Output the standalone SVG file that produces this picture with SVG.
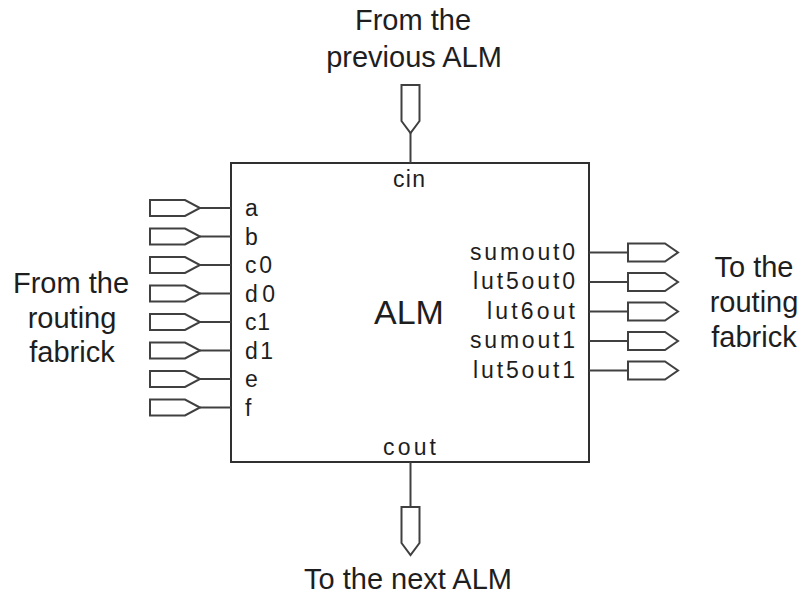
<svg xmlns="http://www.w3.org/2000/svg" width="803" height="596" viewBox="0 0 803 596">
<style>
  .wire{stroke:#404040;stroke-width:2;fill:none}
  .pin{stroke:#404040;stroke-width:2;fill:#fff;stroke-linejoin:miter}
  .box{stroke:#303030;stroke-width:2;fill:#fff}
  text{font-family:"Liberation Sans",Arial,sans-serif;fill:#1e1e1e}
  .big{font-size:29px;text-anchor:middle}
  .port{font-size:23px}
  .title{font-size:34px;text-anchor:middle}
</style>
<defs>
  <path id="pinIn" d="M0,-8 H35 L50,0 L35,8 H0 Z"/>
  <path id="pinOut" d="M0,-9 H37 L50,0 L37,9 H0 Z"/>
  <path id="pinDown" d="M-9,0 H9 V36 L0,48 L-9,36 Z"/>
</defs>

<g id="alm">
  <rect class="box" x="231" y="163" width="358" height="299"/>
  <text class="title" x="409" y="324">ALM</text>
  <text class="port" x="393" y="187" textLength="32" lengthAdjust="spacing">cin</text>
  <text class="port" x="383" y="455" textLength="53" lengthAdjust="spacing">cout</text>
</g>

<g id="inputs">
  <g id="in-a"><use href="#pinIn" class="pin" x="150" y="208"/><text class="port" x="245" y="216">a</text></g>
  <g id="in-b"><use href="#pinIn" class="pin" x="150" y="236.5"/><text class="port" x="245" y="244.5">b</text></g>
  <g id="in-c0"><use href="#pinIn" class="pin" x="150" y="265"/><text class="port" x="245" y="273" textLength="27" lengthAdjust="spacing">c0</text></g>
  <g id="in-d0"><use href="#pinIn" class="pin" x="150" y="293.5"/><text class="port" x="245" y="301.5" textLength="30" lengthAdjust="spacing">d0</text></g>
  <g id="in-c1"><use href="#pinIn" class="pin" x="150" y="322"/><text class="port" x="245" y="330" textLength="25" lengthAdjust="spacing">c1</text></g>
  <g id="in-d1"><use href="#pinIn" class="pin" x="150" y="350.5"/><text class="port" x="245" y="358.5" textLength="28" lengthAdjust="spacing">d1</text></g>
  <g id="in-e"><use href="#pinIn" class="pin" x="150" y="379"/><text class="port" x="245" y="387">e</text></g>
  <g id="in-f"><use href="#pinIn" class="pin" x="150" y="407.5"/><text class="port" x="245" y="415.5">f</text></g>
</g>

<g id="outputs">
  <g id="out-sumout0"><use href="#pinOut" class="pin" x="628" y="252.5"/><text class="port" x="470" y="259.5" textLength="105" lengthAdjust="spacing">sumout0</text></g>
  <g id="out-lut5out0"><use href="#pinOut" class="pin" x="628" y="282"/><text class="port" x="473" y="289" textLength="102" lengthAdjust="spacing">lut5out0</text></g>
  <g id="out-lut6out"><use href="#pinOut" class="pin" x="628" y="311.5"/><text class="port" x="487" y="318.5" textLength="88" lengthAdjust="spacing">lut6out</text></g>
  <g id="out-sumout1"><use href="#pinOut" class="pin" x="628" y="341"/><text class="port" x="470" y="348" textLength="105" lengthAdjust="spacing">sumout1</text></g>
  <g id="out-lut5out1"><use href="#pinOut" class="pin" x="628" y="370.5"/><text class="port" x="473" y="377.5" textLength="102" lengthAdjust="spacing">lut5out1</text></g>
</g>

<g id="carry-in"><use href="#pinDown" class="pin" x="410.5" y="85"/></g>
<g id="carry-out"><use href="#pinDown" class="pin" x="410.5" y="507"/></g>

<g id="connectors">
  <path class="wire" d="M200,208H231 M200,236.5H231 M200,265H231 M200,293.5H231 M200,322H231 M200,350.5H231 M200,379H231 M200,407.5H231"/>
  <path class="wire" d="M589,252.5H628 M589,282H628 M589,311.5H628 M589,341H628 M589,370.5H628"/>
  <path class="wire" d="M410.5,133V163 M410.5,462V507"/>
</g>

<g id="labels">
  <text class="big" x="413" y="30">From the</text>
  <text class="big" x="414" y="67">previous ALM</text>
  <text class="big" x="71" y="293">From the</text>
  <text class="big" x="72" y="328">routing</text>
  <text class="big" x="72" y="362">fabrick</text>
  <text class="big" x="754" y="277">To the</text>
  <text class="big" x="754" y="312">routing</text>
  <text class="big" x="754" y="347">fabrick</text>
  <text class="big" x="408" y="589">To the next ALM</text>
</g>
</svg>
